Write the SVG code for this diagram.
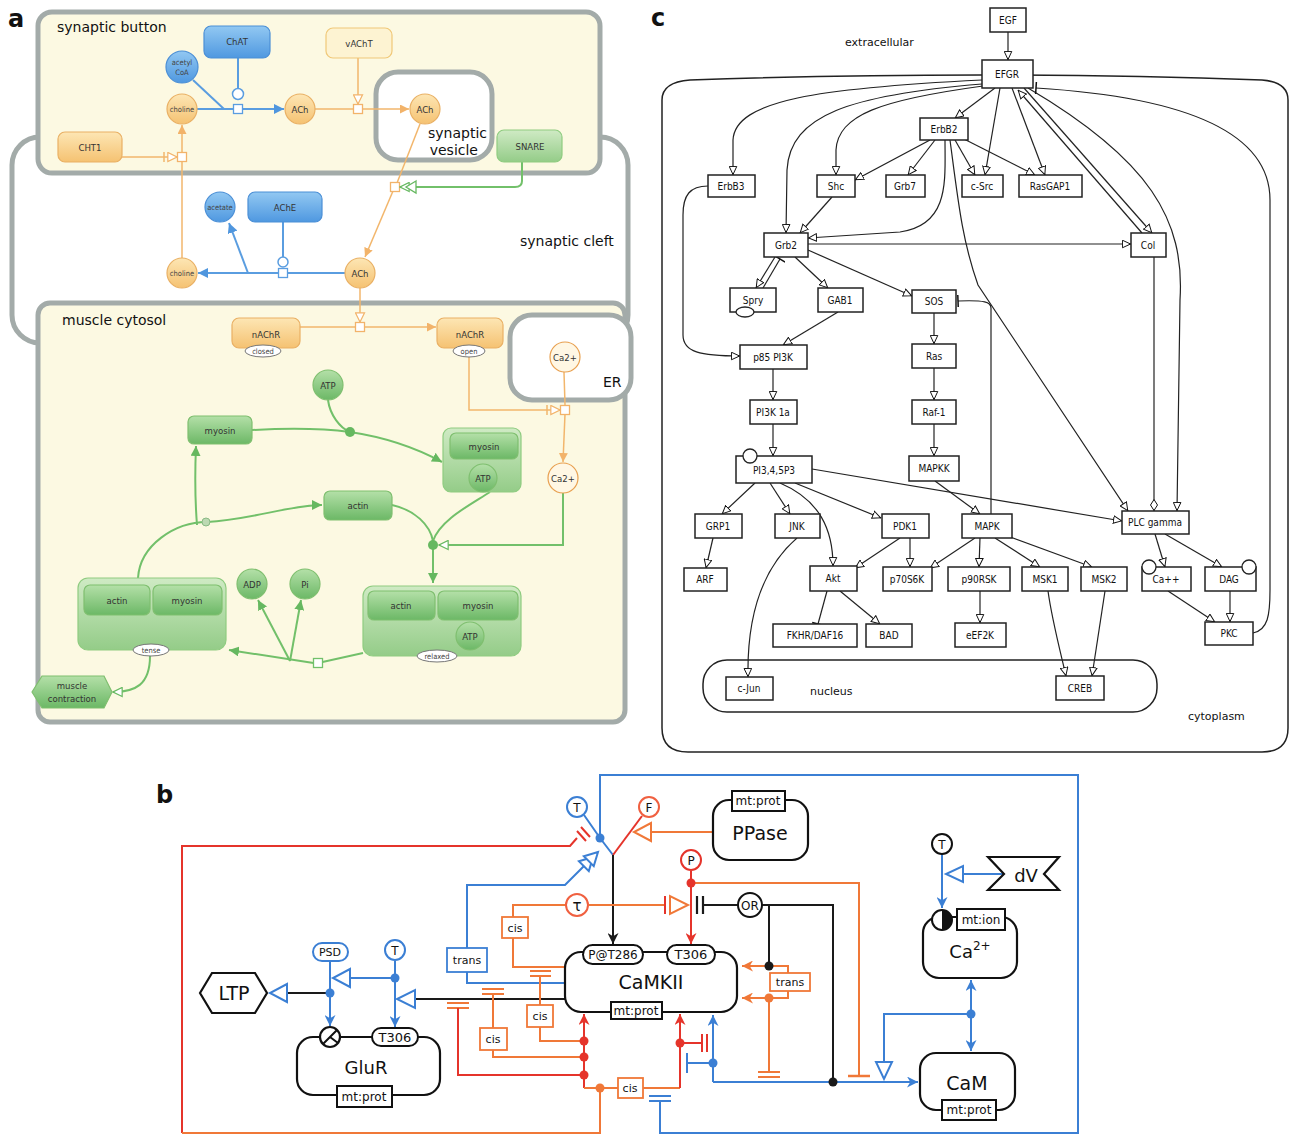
<svg xmlns="http://www.w3.org/2000/svg" width="1295" height="1135" viewBox="0 0 1295 1135">
<style>
.lbl{font-family:"DejaVu Sans","Liberation Sans",sans-serif;fill:#111}
.ta{font-family:"DejaVu Sans Condensed","DejaVu Sans",sans-serif;font-size:9.5px;fill:#333;text-anchor:middle}
.tas{font-family:"DejaVu Sans Condensed","DejaVu Sans",sans-serif;font-size:7.5px;fill:#444;text-anchor:middle}
.comp{stroke:#a3aba9;stroke-width:5}
.ora{fill:url(#gO);stroke:#e9b064;stroke-width:1.2}
.blu{fill:url(#gB);stroke:#4b8fd6;stroke-width:1.2}
.grn{fill:url(#gG);stroke:#7fbf6f;stroke-width:1.2}
.sq{fill:#fff;stroke-width:1.3}
.eo{stroke:#f2b66c;stroke-width:1.5;fill:none}
.eb{stroke:#5a9de0;stroke-width:2;fill:none}
.eg{stroke:#72c06a;stroke-width:2;fill:none}
.nc{fill:#fff;stroke:#222;stroke-width:1.5}
.tc{font-family:"DejaVu Sans Condensed","DejaVu Sans",sans-serif;font-size:10px;fill:#111;text-anchor:middle}
.ec{stroke:#222;stroke-width:1.2;fill:none}
.nb{fill:#fff;stroke:#111;stroke-width:2.2}
.tb{font-family:"DejaVu Sans","Liberation Sans",sans-serif;fill:#111;text-anchor:middle}
.bl{stroke:#3b7fd4;stroke-width:2;fill:none}
.rd{stroke:#e5342b;stroke-width:2;fill:none}
.or{stroke:#f07838;stroke-width:2;fill:none}
.bk{stroke:#1a1a1a;stroke-width:2;fill:none}
</style>
<defs>
<linearGradient id="gO" x1="0" y1="0" x2="0" y2="1"><stop offset="0" stop-color="#fde6b4"/><stop offset="1" stop-color="#f5c272"/></linearGradient>
<linearGradient id="gB" x1="0" y1="0" x2="0" y2="1"><stop offset="0" stop-color="#92c8f2"/><stop offset="1" stop-color="#4f98e0"/></linearGradient>
<linearGradient id="gG" x1="0" y1="0" x2="0" y2="1"><stop offset="0" stop-color="#b4e0a8"/><stop offset="1" stop-color="#6cb866"/></linearGradient>
<linearGradient id="gGl" x1="0" y1="0" x2="0" y2="1"><stop offset="0" stop-color="#cfeac4"/><stop offset="1" stop-color="#94cc88"/></linearGradient>
<marker id="aoA" viewBox="0 0 10 10" refX="10" refY="5" markerWidth="9" markerHeight="9" markerUnits="userSpaceOnUse" orient="auto"><path d="M0,0 L10,5 L0,10 Z" fill="#f2b36a"/></marker>
<marker id="abA" viewBox="0 0 10 10" refX="10" refY="5" markerWidth="10" markerHeight="10" markerUnits="userSpaceOnUse" orient="auto"><path d="M0,0 L10,5 L0,10 Z" fill="#4f96de"/></marker>
<marker id="agA" viewBox="0 0 10 10" refX="10" refY="5" markerWidth="10" markerHeight="10" markerUnits="userSpaceOnUse" orient="auto"><path d="M0,0 L10,5 L0,10 Z" fill="#66b860"/></marker>
<marker id="hoA" viewBox="0 0 12 12" refX="11" refY="6" markerWidth="11" markerHeight="11" markerUnits="userSpaceOnUse" orient="auto"><path d="M1,1 L11,6 L1,11 Z" fill="#fff" stroke="#f2b36a" stroke-width="1.3"/></marker>
<marker id="hgA" viewBox="0 0 12 12" refX="11" refY="6" markerWidth="11" markerHeight="11" markerUnits="userSpaceOnUse" orient="auto"><path d="M1,1 L11,6 L1,11 Z" fill="#fff" stroke="#66b860" stroke-width="1.3"/></marker>
<marker id="ot" viewBox="0 0 10 10" refX="10" refY="5" markerWidth="9" markerHeight="9" markerUnits="userSpaceOnUse" orient="auto"><path d="M0.5,0.8 L9.5,5 L0.5,9.2 Z" fill="#fff" stroke="#111" stroke-width="1.1"/></marker>
<marker id="tbar" viewBox="0 0 4 12" refX="2" refY="6" markerWidth="4" markerHeight="12" markerUnits="userSpaceOnUse" orient="auto"><path d="M2,0 V12" stroke="#111" stroke-width="1.5"/></marker>
<marker id="dia" viewBox="0 0 12 8" refX="12" refY="4" markerWidth="12" markerHeight="8" markerUnits="userSpaceOnUse" orient="auto"><path d="M0.5,4 L6,0.5 L11.5,4 L6,7.5 Z" fill="#fff" stroke="#111"/></marker>
<marker id="fb" viewBox="0 0 10 10" refX="10" refY="5" markerWidth="11" markerHeight="11" markerUnits="userSpaceOnUse" orient="auto"><path d="M0,0 L10,5 L0,10 L3,5 Z" fill="#3b7fd4"/></marker>
<marker id="fr" viewBox="0 0 10 10" refX="10" refY="5" markerWidth="11" markerHeight="11" markerUnits="userSpaceOnUse" orient="auto"><path d="M0,0 L10,5 L0,10 L3,5 Z" fill="#e5342b"/></marker>
<marker id="fk" viewBox="0 0 10 10" refX="10" refY="5" markerWidth="11" markerHeight="11" markerUnits="userSpaceOnUse" orient="auto"><path d="M0,0 L10,5 L0,10 L3,5 Z" fill="#1a1a1a"/></marker>
<marker id="fo" viewBox="0 0 10 10" refX="10" refY="5" markerWidth="11" markerHeight="11" markerUnits="userSpaceOnUse" orient="auto"><path d="M0,0 L10,5 L0,10 L3,5 Z" fill="#f07838"/></marker>
</defs>
<rect width="1295" height="1135" fill="#fff"/>

<!-- ================= PANEL A ================= -->
<g id="panel-a">
<text class="lbl" x="8" y="27" font-size="24" font-weight="bold">a</text>
<rect id="synaptic-cleft" class="comp" x="12" y="137" width="616" height="206" rx="28" fill="#fff"/>
<rect id="synaptic-button" class="comp" x="38" y="12" width="562" height="161" rx="14" fill="#fcf9e2"/>
<rect id="muscle-cytosol" class="comp" x="38" y="303" width="587" height="419" rx="12" fill="#fcf9e2"/>
<rect id="ER" class="comp" x="510" y="315" width="121" height="85" rx="22" fill="#fff"/>
<rect id="synaptic-vesicle" class="comp" x="376" y="72" width="116" height="88" rx="22" fill="#fff"/>
<text class="lbl" x="57" y="32" font-size="14">synaptic button</text>
<text class="lbl" x="520" y="246" font-size="14">synaptic cleft</text>
<text class="lbl" x="62" y="325" font-size="14">muscle cytosol</text>
<text class="lbl" x="603" y="387" font-size="14">ER</text>
<text class="lbl" x="487" y="138" font-size="14" text-anchor="end">synaptic</text>
<text class="lbl" x="478" y="155" font-size="14" text-anchor="end">vesicle</text>
</g>

<g id="connectors-a">
<path class="eb" d="M197,109 L234,109"/>
<path class="eb" d="M243,109 L284,109" marker-end="url(#abA)"/>
<path class="eb" d="M193,80 L224,109"/>
<path class="eb" d="M238,58 L238,88"/>
<circle cx="238" cy="94" r="5.5" fill="#fff" stroke="#5a9de0" stroke-width="1.5"/>
<rect class="sq" x="233.5" y="104.5" width="9" height="9" stroke="#5a9de0"/>
<path class="eo" d="M315,109 L353.5,109"/>
<path class="eo" d="M362.5,109 L409,109" marker-end="url(#aoA)"/>
<path class="eo" d="M358,58 L358,104" marker-end="url(#hoA)"/>
<rect class="sq" x="353.5" y="104.5" width="9" height="9" stroke="#f2b36a"/>
<path class="eo" d="M122,157 L177,157" marker-end="url(#hoA)"/>
<path class="eo" d="M164,152 L164,162"/>
<path class="eo" d="M182,258 L182,161.5"/>
<path class="eo" d="M182,152.5 L182,125" marker-end="url(#aoA)"/>
<rect class="sq" x="177.5" y="152.5" width="9" height="9" stroke="#f2b36a"/>
<path class="eo" d="M420,124 L397,183"/>
<path class="eo" d="M393,191 L365,257" marker-end="url(#aoA)"/>
<rect class="sq" x="390.5" y="182.5" width="9" height="9" stroke="#f2b36a"/>
<path class="eg" stroke-width="1.5" d="M522,162 L522,181 Q522,187 515,187 L400,187" marker-end="url(#hgA)"/>
<path d="M416,181 L406,187 L416,193 Z" fill="#fff" stroke="#66b860" stroke-width="1.3"/>
<path class="eb" d="M345,273 L287.5,273"/>
<path class="eb" d="M278.5,273 L198,273" marker-end="url(#abA)"/>
<path class="eb" d="M283,222 L283,257"/>
<circle cx="283" cy="262" r="5" fill="#fff" stroke="#5a9de0" stroke-width="1.5"/>
<rect class="sq" x="278.5" y="268.5" width="9" height="9" stroke="#5a9de0"/>
<path class="eb" d="M248,273 L229,223" marker-end="url(#abA)"/>
<path class="eo" d="M360,288 L360,322" marker-end="url(#hoA)"/>
<path class="eo" d="M300,327 L355.5,327"/>
<path class="eo" d="M364.5,327 L436,327" marker-end="url(#aoA)"/>
<rect class="sq" x="355.5" y="322.5" width="9" height="9" stroke="#f2b36a"/>
<path class="eo" d="M469,352 L469,410 L560,410" marker-end="url(#hoA)"/>
<path class="eo" d="M547,405 L547,415"/>
<path class="eo" d="M564,372 L565,405"/>
<path class="eo" d="M565,414 L563,462" marker-end="url(#aoA)"/>
<rect class="sq" x="560.5" y="405.5" width="9" height="9" stroke="#f2b36a"/>
<path class="eg" stroke-width="1.5" d="M563,493 L563,545 L439,545" marker-end="url(#hgA)"/>
<path class="eg" d="M392,505 C415,510 430,525 433,541"/>
<path class="eg" d="M490,492 C470,505 440,520 433,541"/>
<path class="eg" d="M433,549 L433,583" marker-end="url(#agA)"/>
<circle cx="433" cy="545" r="5" fill="#66b860"/>
<path class="eg" d="M252,430 C290,428 320,428 350,432 C390,438 420,450 442,462" marker-end="url(#agA)"/>
<path class="eg" d="M328,400 C330,415 340,428 350,432"/>
<circle cx="350" cy="432" r="5" fill="#66b860"/>
<path class="eg" d="M363,653 L322.5,662"/>
<path class="eg" d="M313.5,663 L229,650" marker-end="url(#agA)"/>
<path class="eg" d="M290,661 L258,600" marker-end="url(#agA)"/>
<path class="eg" d="M290,661 L301,600" marker-end="url(#agA)"/>
<rect class="sq" x="313.5" y="658.5" width="9" height="9" stroke="#72c06a"/>
<path class="eg" d="M138,578 C140,545 175,522 207,522 C250,520 290,505 322,505" marker-end="url(#agA)"/>
<path class="eg" d="M197,525 C195,500 195,470 196,446" marker-end="url(#agA)"/>
<circle cx="206" cy="522" r="4" fill="#bcd9b2" stroke="#8aba84"/>
<path class="eg" stroke-width="1.5" d="M150,656 C150,685 135,692 113,692" marker-end="url(#hgA)"/>
</g>

<g id="ChAT"><rect class="blu" x="204" y="26" width="66" height="32" rx="7"/><text class="ta" x="237" y="45" fill="#eef6ff">ChAT</text></g>
<g id="vAChT"><rect x="326" y="28" width="66" height="30" rx="7" fill="#fdf3d2" stroke="#f0c878" stroke-width="1.2"/><text class="ta" x="359" y="47">vAChT</text></g>
<g id="acetylCoA"><circle class="blu" cx="182" cy="67" r="16"/><text class="tas" x="182" y="65" fill="#234">acetyl</text><text class="tas" x="182" y="75" fill="#234">CoA</text></g>
<g id="choline1"><circle class="ora" cx="182" cy="109" r="15"/><text class="tas" x="182" y="112">choline</text></g>
<g id="ACh1"><circle class="ora" cx="300" cy="109" r="15"/><text class="ta" x="300" y="113">ACh</text></g>
<g id="ACh2"><circle class="ora" cx="425" cy="109" r="15"/><text class="ta" x="425" y="113">ACh</text></g>
<g id="CHT1"><rect class="ora" x="58" y="132" width="64" height="30" rx="7"/><text class="ta" x="90" y="151">CHT1</text></g>
<g id="SNARE"><rect x="497" y="130" width="65" height="32" rx="7" fill="url(#gGl)" stroke="#8fcc80" stroke-width="1.2"/><text class="ta" x="530" y="150">SNARE</text></g>
<g id="acetate"><circle class="blu" cx="220" cy="207" r="15"/><text class="tas" x="220" y="210" fill="#234">acetate</text></g>
<g id="AChE"><rect class="blu" x="248" y="192" width="74" height="30" rx="7"/><text class="ta" x="285" y="211" fill="#eef6ff">AChE</text></g>
<g id="choline2"><circle class="ora" cx="182" cy="273" r="15"/><text class="tas" x="182" y="276">choline</text></g>
<g id="ACh3"><circle class="ora" cx="360" cy="273" r="15"/><text class="ta" x="360" y="277">ACh</text></g>
<g id="nAChR-closed"><rect class="ora" x="232" y="318" width="68" height="30" rx="7"/><text class="ta" x="266" y="338">nAChR</text><ellipse cx="263" cy="351" rx="18" ry="6" fill="#fff" stroke="#777"/><text class="tas" x="263" y="354">closed</text></g>
<g id="nAChR-open"><rect class="ora" x="437" y="318" width="66" height="30" rx="7"/><text class="ta" x="470" y="338">nAChR</text><ellipse cx="469" cy="351" rx="16" ry="6" fill="#fff" stroke="#777"/><text class="tas" x="469" y="354">open</text></g>
<g id="Ca-ER"><circle cx="565" cy="357" r="15" fill="#fff7e4" stroke="#e8a050" stroke-width="1.2"/><text class="ta" x="565" y="361">Ca2+</text></g>
<g id="Ca-cyt"><circle cx="563" cy="478" r="15" fill="#fff7e4" stroke="#e8a050" stroke-width="1.2"/><text class="ta" x="563" y="482">Ca2+</text></g>
<g id="ATP1"><circle class="grn" cx="328" cy="385" r="15"/><text class="ta" x="328" y="389">ATP</text></g>
<g id="myosin1"><rect class="grn" x="188" y="416" width="64" height="28" rx="6"/><text class="ta" x="220" y="434">myosin</text></g>
<g id="myosin-ATP"><rect x="443" y="428" width="78" height="64" rx="8" fill="url(#gGl)" stroke="#8fcc80" stroke-width="1.2"/><rect class="grn" x="450" y="433" width="68" height="26" rx="6"/><text class="ta" x="484" y="450">myosin</text><circle class="grn" cx="483" cy="478" r="14"/><text class="ta" x="483" y="482">ATP</text></g>
<g id="actin1"><rect class="grn" x="324" y="491" width="68" height="29" rx="6"/><text class="ta" x="358" y="509">actin</text></g>
<g id="tense"><rect x="78" y="578" width="148" height="72" rx="10" fill="url(#gGl)" stroke="#8fcc80" stroke-width="1.2"/><rect class="grn" x="84" y="585" width="66" height="30" rx="6"/><text class="ta" x="117" y="604">actin</text><rect class="grn" x="153" y="585" width="69" height="30" rx="6"/><text class="ta" x="187" y="604">myosin</text><ellipse cx="151" cy="650" rx="18" ry="6" fill="#fff" stroke="#777"/><text class="tas" x="151" y="653">tense</text></g>
<g id="ADP"><circle class="grn" cx="252" cy="584" r="15"/><text class="ta" x="252" y="588">ADP</text></g>
<g id="Pi"><circle class="grn" cx="305" cy="584" r="15"/><text class="ta" x="305" y="588">Pi</text></g>
<g id="relaxed"><rect x="363" y="586" width="158" height="70" rx="10" fill="url(#gGl)" stroke="#8fcc80" stroke-width="1.2"/><rect class="grn" x="368" y="591" width="67" height="29" rx="6"/><text class="ta" x="401" y="609">actin</text><rect class="grn" x="438" y="591" width="80" height="29" rx="6"/><text class="ta" x="478" y="609">myosin</text><circle class="grn" cx="470" cy="636" r="14"/><text class="ta" x="470" y="640">ATP</text><ellipse cx="437" cy="656" rx="20" ry="6" fill="#fff" stroke="#777"/><text class="tas" x="437" y="659">relaxed</text></g>
<g id="muscle-contraction"><polygon class="grn" points="32,692 42,676 104,676 112,692 104,708 42,708"/><text class="ta" x="72" y="689">muscle</text><text class="ta" x="72" y="702">contraction</text></g>

<!-- ================= PANEL C ================= -->
<g id="panel-c">
<text class="lbl" x="651" y="26" font-size="24" font-weight="bold">c</text>
<path id="cytoplasm" d="M662,100 Q662,82 690,80 Q985,70 1262,80 Q1288,82 1288,100 L1288,728 Q1288,752 1262,752 L688,752 Q662,752 662,728 Z" fill="none" stroke="#222" stroke-width="1.5"/>
<rect id="nucleus" x="703" y="660" width="454" height="52" rx="24" fill="none" stroke="#222" stroke-width="1.5"/>
<text class="lbl" x="845" y="46" font-size="11">extracellular</text>
<text class="lbl" x="1188" y="720" font-size="11">cytoplasm</text>
<text class="lbl" x="810" y="695" font-size="11">nucleus</text>
</g>
<g id="connectors-c">
<path class="ec" d="M1008,32 L1008,60" marker-end="url(#ot)"/>
<path class="ec" d="M995,88 L955,118" marker-end="url(#ot)"/>
<path class="ec" d="M982,80 C820,88 735,100 733,140 L733,175" marker-end="url(#ot)"/>
<path class="ec" d="M982,84 C850,95 790,115 787,170 L786,233" marker-end="url(#ot)"/>
<path class="ec" d="M983,86 C880,100 838,115 836,150 L836,175" marker-end="url(#ot)"/>
<path class="ec" d="M1000,88 L985,175" marker-end="url(#ot)"/>
<path class="ec" d="M1012,88 L1045,175" marker-end="url(#ot)"/>
<path class="ec" d="M1024,88 L1152,233" marker-end="url(#ot)"/>
<path class="ec" d="M1142,233 L1018,90" marker-end="url(#ot)"/>
<path class="ec" d="M1028,88 C1150,160 1185,220 1180,300 L1177,511" marker-end="url(#ot)"/>
<path class="ec" d="M1253,633 C1268,630 1270,615 1270,590 L1270,200 C1270,120 1150,95 1036,88" marker-end="url(#tbar)"/>
<path class="ec" d="M1154,257 L1154,511" marker-end="url(#dia)"/>
<path class="ec" d="M930,140 L855,180" marker-end="url(#ot)"/>
<path class="ec" d="M935,140 L908,175" marker-end="url(#ot)"/>
<path class="ec" d="M955,140 L975,175" marker-end="url(#ot)"/>
<path class="ec" d="M962,138 L1035,175" marker-end="url(#ot)"/>
<path class="ec" d="M945,140 C945,180 950,225 900,232 L808,238" marker-end="url(#ot)"/>
<path class="ec" d="M950,140 C958,200 962,240 978,285 L1128,511" marker-end="url(#ot)"/>
<path class="ec" d="M832,197 L800,233" marker-end="url(#ot)"/>
<path class="ec" d="M708,186 C690,186 683,195 683,215 L683,335 C683,352 700,356 740,356" marker-end="url(#ot)"/>
<path class="ec" d="M808,244 L1131,244" marker-end="url(#ot)"/>
<path class="ec" d="M775,257 L756,288" marker-end="url(#ot)"/>
<path class="ec" d="M763,288 L780,259" marker-end="url(#tbar)"/>
<path class="ec" d="M795,257 L828,288" marker-end="url(#ot)"/>
<path class="ec" d="M808,250 L912,296" marker-end="url(#ot)"/>
<path class="ec" d="M838,312 L783,345" marker-end="url(#ot)"/>
<path class="ec" d="M773,369 L773,400" marker-end="url(#ot)"/>
<path class="ec" d="M773,424 L773,456" marker-end="url(#ot)"/>
<path class="ec" d="M934,313 L934,344" marker-end="url(#ot)"/>
<path class="ec" d="M934,368 L934,400" marker-end="url(#ot)"/>
<path class="ec" d="M934,424 L934,456" marker-end="url(#ot)"/>
<path class="ec" d="M935,481 L980,514" marker-end="url(#ot)"/>
<path class="ec" d="M991,514 L991,308 C991,302 985,300 958,301" marker-end="url(#tbar)"/>
<path class="ec" d="M755,483 L722,514" marker-end="url(#ot)"/>
<path class="ec" d="M770,483 L790,514" marker-end="url(#ot)"/>
<path class="ec" d="M780,483 C820,500 833,530 833,566" marker-end="url(#ot)"/>
<path class="ec" d="M795,483 L881,518" marker-end="url(#ot)"/>
<path class="ec" d="M812,469 L1122,521" marker-end="url(#ot)"/>
<path class="ec" d="M713,538 L706,568" marker-end="url(#ot)"/>
<path class="ec" d="M797,538 C760,570 747,620 748,677" marker-end="url(#ot)"/>
<path class="ec" d="M900,538 L855,568" marker-end="url(#ot)"/>
<path class="ec" d="M910,538 L910,567" marker-end="url(#ot)"/>
<path class="ec" d="M975,538 L930,568" marker-end="url(#ot)"/>
<path class="ec" d="M980,538 L979,567" marker-end="url(#ot)"/>
<path class="ec" d="M995,538 L1040,567" marker-end="url(#ot)"/>
<path class="ec" d="M1005,535 L1092,567" marker-end="url(#ot)"/>
<path class="ec" d="M1155,534 L1165,567" marker-end="url(#ot)"/>
<path class="ec" d="M1165,534 L1222,567" marker-end="url(#ot)"/>
<path class="ec" d="M827,591 L818,624" marker-end="url(#tbar)"/>
<path class="ec" d="M840,591 L880,624" marker-end="url(#ot)"/>
<path class="ec" d="M980,591 L980,623" marker-end="url(#ot)"/>
<path class="ec" d="M1048,591 C1052,620 1060,650 1066,676" marker-end="url(#ot)"/>
<path class="ec" d="M1105,591 L1092,676" marker-end="url(#ot)"/>
<path class="ec" d="M1168,591 L1215,622" marker-end="url(#ot)"/>
<path class="ec" d="M1230,591 L1230,622" marker-end="url(#ot)"/>
</g>
<g id="EGF"><rect class="nc" x="990" y="8" width="36" height="24"/><text class="tc" x="1008" y="24">EGF</text></g>
<g id="EFGR"><rect class="nc" x="982" y="60" width="51" height="28"/><text class="tc" x="1007" y="78">EFGR</text></g>
<g id="ErbB2"><rect class="nc" x="920" y="118" width="48" height="22"/><text class="tc" x="944" y="133">ErbB2</text></g>
<g id="ErbB3"><rect class="nc" x="708" y="175" width="47" height="22"/><text class="tc" x="731" y="190">ErbB3</text></g>
<g id="Shc"><rect class="nc" x="817" y="175" width="38" height="22"/><text class="tc" x="836" y="190">Shc</text></g>
<g id="Grb7"><rect class="nc" x="886" y="175" width="39" height="22"/><text class="tc" x="905" y="190">Grb7</text></g>
<g id="c-Src"><rect class="nc" x="962" y="175" width="41" height="22"/><text class="tc" x="982" y="190">c-Src</text></g>
<g id="RasGAP1"><rect class="nc" x="1019" y="175" width="63" height="22"/><text class="tc" x="1050" y="190">RasGAP1</text></g>
<g id="Grb2"><rect class="nc" x="764" y="233" width="44" height="24"/><text class="tc" x="786" y="249">Grb2</text></g>
<g id="Col"><rect class="nc" x="1131" y="233" width="35" height="24"/><text class="tc" x="1148" y="249">Col</text></g>
<g id="Spry"><rect class="nc" x="730" y="288" width="46" height="24"/><text class="tc" x="753" y="304">Spry</text><ellipse cx="745" cy="312" rx="9" ry="5" fill="#fff" stroke="#222" stroke-width="1.3"/></g>
<g id="GAB1"><rect class="nc" x="818" y="288" width="45" height="24"/><text class="tc" x="840" y="304">GAB1</text></g>
<g id="SOS"><rect class="nc" x="912" y="290" width="44" height="23"/><text class="tc" x="934" y="305">SOS</text></g>
<g id="p85PI3K"><rect class="nc" x="740" y="345" width="67" height="24"/><text class="tc" x="773" y="361">p85 PI3K</text></g>
<g id="Ras"><rect class="nc" x="912" y="344" width="44" height="24"/><text class="tc" x="934" y="360">Ras</text></g>
<g id="PI3K1a"><rect class="nc" x="750" y="400" width="47" height="24"/><text class="tc" x="773" y="416">PI3K 1a</text></g>
<g id="Raf-1"><rect class="nc" x="912" y="400" width="44" height="24"/><text class="tc" x="934" y="416">Raf-1</text></g>
<g id="PIP3"><rect class="nc" x="736" y="456" width="76" height="27"/><text class="tc" x="774" y="474">PI3,4,5P3</text><circle cx="750" cy="456" r="7" fill="#fff" stroke="#222" stroke-width="1.3"/></g>
<g id="MAPKK"><rect class="nc" x="909" y="456" width="50" height="25"/><text class="tc" x="934" y="472">MAPKK</text></g>
<g id="GRP1"><rect class="nc" x="695" y="514" width="47" height="24"/><text class="tc" x="718" y="530">GRP1</text></g>
<g id="JNK"><rect class="nc" x="775" y="514" width="45" height="24"/><text class="tc" x="797" y="530">JNK</text></g>
<g id="PDK1"><rect class="nc" x="882" y="514" width="47" height="24"/><text class="tc" x="905" y="530">PDK1</text></g>
<g id="MAPK"><rect class="nc" x="962" y="514" width="50" height="24"/><text class="tc" x="987" y="530">MAPK</text></g>
<g id="PLCgamma"><rect class="nc" x="1122" y="511" width="67" height="23"/><text class="tc" x="1155" y="526">PLC gamma</text></g>
<g id="ARF"><rect class="nc" x="684" y="568" width="43" height="23"/><text class="tc" x="705" y="583">ARF</text></g>
<g id="Akt"><rect class="nc" x="810" y="566" width="47" height="25"/><text class="tc" x="833" y="582">Akt</text></g>
<g id="p70S6K"><rect class="nc" x="883" y="567" width="49" height="24"/><text class="tc" x="907" y="583">p70S6K</text></g>
<g id="p90RSK"><rect class="nc" x="948" y="567" width="62" height="24"/><text class="tc" x="979" y="583">p90RSK</text></g>
<g id="MSK1"><rect class="nc" x="1022" y="567" width="46" height="24"/><text class="tc" x="1045" y="583">MSK1</text></g>
<g id="MSK2"><rect class="nc" x="1081" y="567" width="46" height="24"/><text class="tc" x="1104" y="583">MSK2</text></g>
<g id="Capp"><rect class="nc" x="1142" y="567" width="49" height="24"/><text class="tc" x="1166" y="583">Ca++</text><circle cx="1149" cy="567" r="7" fill="#fff" stroke="#222" stroke-width="1.3"/></g>
<g id="DAG"><rect class="nc" x="1205" y="567" width="51" height="24"/><text class="tc" x="1229" y="583">DAG</text><circle cx="1249" cy="567" r="7" fill="#fff" stroke="#222" stroke-width="1.3"/></g>
<g id="FKHR"><rect class="nc" x="773" y="624" width="84" height="23"/><text class="tc" x="815" y="639">FKHR/DAF16</text></g>
<g id="BAD"><rect class="nc" x="866" y="624" width="46" height="23"/><text class="tc" x="889" y="639">BAD</text></g>
<g id="eEF2K"><rect class="nc" x="955" y="623" width="51" height="24"/><text class="tc" x="980" y="639">eEF2K</text></g>
<g id="PKC"><rect class="nc" x="1205" y="622" width="48" height="23"/><text class="tc" x="1229" y="637">PKC</text></g>
<g id="c-Jun"><rect class="nc" x="726" y="677" width="47" height="23"/><text class="tc" x="749" y="692">c-Jun</text></g>
<g id="CREB"><rect class="nc" x="1056" y="676" width="48" height="24"/><text class="tc" x="1080" y="692">CREB</text></g>

<!-- ================= PANEL B ================= -->
<text class="lbl" x="156" y="803" font-size="24" font-weight="bold">b</text>
<g id="connectors-b">
<path class="rd" d="M577,838 L570,846 L182,846 L182,1133"/>
<path stroke="#e5342b" stroke-width="2" d="M577,831 L586,841 M581,827 L590,837"/>
<path class="or" d="M600,1088 L600,1133 L182,1133"/>
<path class="bl" d="M600,838 L600,775 L1078,775 L1078,1133 L660,1133 L660,1101"/>
<path stroke="#3b7fd4" stroke-width="2" d="M649,1096 H671 M649,1101 H671"/>
<path class="bl" d="M584,815 L600,838 L613,855"/>
<circle cx="600" cy="838" r="4.5" fill="#3b7fd4"/>
<path class="rd" stroke="#f06040" d="M642,816 L613,855"/>
<path class="bk" d="M613,855 L613,944" marker-end="url(#fk)"/>
<path class="or" d="M713,832 L651,832"/>
<polygon points="651,823 651,841 634,832" fill="#fff" stroke="#f07838" stroke-width="2"/>
<path class="bl" d="M467,948 L467,885 L565,885 L586,864"/>
<g transform="translate(598,852) rotate(-45)" fill="#fff" stroke="#3b7fd4" stroke-width="2"><polygon points="-7,0 -20,-7 -20,7"/><polygon points="0,0 -13,-7 -13,7"/></g>
<path class="bl" d="M467,972 L467,983 L565,983"/>
<path class="bk" d="M565,999 L415,999"/>
<polygon points="415,990 415,1008 397,999" fill="#fff" stroke="#3b7fd4" stroke-width="2"/>
<path class="bl" d="M395,961 L395,1027" marker-end="url(#fb)"/>
<path class="bl" d="M395,978 L350,978"/>
<polygon points="350,969 350,987 333,978" fill="#fff" stroke="#3b7fd4" stroke-width="2"/>
<circle cx="395" cy="978" r="4.5" fill="#3b7fd4"/>
<path class="bl" d="M330,961 L330,1026" marker-end="url(#fb)"/>
<path class="bk" stroke-width="1.5" d="M330,993 L287,993"/>
<polygon points="287,984 287,1002 270,993" fill="#fff" stroke="#3b7fd4" stroke-width="2"/>
<circle cx="330" cy="993" r="4.5" fill="#3b7fd4"/>
<path class="or" d="M589,905 L664,905"/>
<path stroke="#e5342b" stroke-width="2" d="M665,896 V914"/>
<polygon points="670,896 670,914 688,905" fill="#fff" stroke="#f07838" stroke-width="2"/>
<path class="or" d="M566,905 L513,905 L513,917 M513,938 L513,967 L565,967"/>
<path stroke="#f07838" stroke-width="2" d="M530,971 H551 M530,976 H551"/>
<path class="or" d="M540,976 L540,1005 M540,1027 L540,1041 L584,1041"/>
<path stroke="#f07838" stroke-width="2" d="M482,989 H504 M482,994 H504"/>
<path class="or" d="M493,994 L493,1028 M493,1050 L493,1057 L584,1057"/>
<path stroke="#f07838" stroke-width="2" d="M447,1003 H469 M447,1008 H469"/>
<path class="rd" d="M458,1008 L458,1075 L584,1075"/>
<path class="rd" d="M584,1088 L584,1014" marker-end="url(#fr)"/>
<circle cx="584" cy="1041" r="4.5" fill="#e5342b"/>
<circle cx="584" cy="1057" r="4.5" fill="#e5342b"/>
<circle cx="584" cy="1075" r="4.5" fill="#e5342b"/>
<path class="or" d="M584,1088 L618,1088 M643,1088 L680,1088"/>
<circle cx="600" cy="1088" r="4.5" fill="#f07838"/>
<path class="rd" d="M680,1088 L680,1014" marker-end="url(#fr)"/>
<circle cx="680" cy="1043" r="4.5" fill="#e5342b"/>
<path class="rd" d="M680,1043 L702,1043"/>
<path stroke="#e5342b" stroke-width="2" d="M702,1034 V1052 M707,1034 V1052"/>
<path class="bl" d="M713,1082 L713,1015" marker-end="url(#fb)"/>
<path class="bl" d="M713,1063 L687,1063"/>
<path stroke="#3b7fd4" stroke-width="2" d="M687,1053 V1073"/>
<circle cx="713" cy="1063" r="4.5" fill="#3b7fd4"/>
<path class="bl" d="M713,1082 L918,1082" marker-end="url(#fb)"/>
<path class="rd" d="M691,871 L691,944" marker-end="url(#fr)"/>
<path class="or" stroke="#f06040" d="M691,883 L859,883 L859,1076"/>
<path stroke="#f07838" stroke-width="2.5" d="M848,1076 H870"/>
<circle cx="691" cy="883" r="4.5" fill="#e5342b"/>
<path stroke="#1a1a1a" stroke-width="2.2" d="M697,896 V914 M703,896 V914"/>
<path class="bk" d="M703,905 L738,905 M762,905 L833,905 L833,1082"/>
<circle cx="833" cy="1082" r="4.5" fill="#1a1a1a"/>
<path class="bk" d="M769,905 L769,966"/>
<path class="or" d="M769,966 L742,966" marker-end="url(#fo)"/>
<path class="or" d="M769,966 L788,966 L788,973 M788,991 L788,998 L769,998"/>
<path class="or" d="M769,998 L742,998" marker-end="url(#fo)"/>
<path class="or" d="M769,998 L769,1073"/>
<path stroke="#f07838" stroke-width="2" d="M758,1072 H780 M758,1077 H780"/>
<circle cx="769" cy="966" r="4.5" fill="#1a1a1a"/>
<circle cx="769" cy="998" r="4.5" fill="#f07838"/>
<path class="bl" d="M942,854 L942,908" marker-end="url(#fb)"/>
<path class="bl" d="M1005,874 L963,874"/>
<polygon points="963,866 963,882 946,874" fill="#fff" stroke="#3b7fd4" stroke-width="2"/>
<path class="bl" d="M971,1014 L971,980" marker-end="url(#fb)"/>
<path class="bl" d="M971,1014 L971,1051" marker-end="url(#fb)"/>
<circle cx="971" cy="1014" r="4.5" fill="#3b7fd4"/>
<path class="bl" stroke-width="1.5" d="M971,1014 L884,1014 L884,1062"/>
<polygon points="876,1062 892,1062 884,1079" fill="#fff" stroke="#3b7fd4" stroke-width="2"/>
</g>

<g id="cis1"><rect x="502" y="917" width="26" height="21" fill="#fff" stroke="#f07838" stroke-width="1.8"/><text class="tb" x="515" y="932" font-size="11" fill="#f07838">cis</text></g>
<g id="cis2"><rect x="527" y="1005" width="26" height="22" fill="#fff" stroke="#f07838" stroke-width="1.8"/><text class="tb" x="540" y="1020" font-size="11" fill="#f07838">cis</text></g>
<g id="cis3"><rect x="480" y="1028" width="27" height="22" fill="#fff" stroke="#f07838" stroke-width="1.8"/><text class="tb" x="493" y="1043" font-size="11" fill="#f07838">cis</text></g>
<g id="cis4"><rect x="618" y="1078" width="25" height="20" fill="#fff" stroke="#f07838" stroke-width="1.8"/><text class="tb" x="630" y="1092" font-size="11" fill="#f07838">cis</text></g>
<g id="trans1"><rect x="447" y="948" width="40" height="24" fill="#fff" stroke="#3b7fd4" stroke-width="1.8"/><text class="tb" x="467" y="964" font-size="11" fill="#3b7fd4">trans</text></g>
<g id="trans2"><rect x="770" y="973" width="40" height="18" fill="#fff" stroke="#f07838" stroke-width="1.8"/><text class="tb" x="790" y="986" font-size="11" fill="#f07838">trans</text></g>

<g id="LTP"><polygon points="200,993 212,973 255,973 267,993 255,1013 212,1013" class="nb" stroke-width="2.5"/><text class="tb" x="234" y="1000" font-size="19">LTP</text></g>
<g id="PSD"><rect x="313" y="943" width="35" height="18" rx="9" fill="#fff" stroke="#3b7fd4" stroke-width="2"/><text class="tb" x="330" y="956" font-size="11" fill="#3b7fd4">PSD</text></g>
<g id="T-blue1"><circle cx="395" cy="950" r="10" fill="#fff" stroke="#3b7fd4" stroke-width="2"/><text class="tb" x="395" y="955" font-size="12" fill="#3b7fd4">T</text></g>
<g id="GluR"><rect class="nb" x="297" y="1037" width="143" height="58" rx="16"/><text class="tb" x="366" y="1074" font-size="18">GluR</text>
<circle cx="330" cy="1037" r="10" fill="#fff" stroke="#111" stroke-width="2.2"/><path d="M323,1044 L337,1030 M330,1037 L338,1043" stroke="#111" stroke-width="2"/>
<rect x="372" y="1028" width="46" height="18" rx="9" fill="#fff" stroke="#111" stroke-width="2"/><text class="tb" x="395" y="1042" font-size="13">T306</text>
<rect x="337" y="1086" width="55" height="21" fill="#fff" stroke="#111" stroke-width="2"/><text class="tb" x="364" y="1101" font-size="12">mt:prot</text></g>
<g id="CaMKII"><rect class="nb" x="565" y="952" width="172" height="60" rx="16"/><text class="tb" x="651" y="989" font-size="19">CaMKII</text>
<rect x="583" y="945" width="60" height="19" rx="9.5" fill="#fff" stroke="#111" stroke-width="2"/><text class="tb" x="613" y="959" font-size="12">P@T286</text>
<rect x="667" y="945" width="48" height="19" rx="9.5" fill="#fff" stroke="#111" stroke-width="2"/><text class="tb" x="691" y="959" font-size="13">T306</text>
<rect x="611" y="1002" width="51" height="17" fill="#fff" stroke="#111" stroke-width="2"/><text class="tb" x="636" y="1015" font-size="12">mt:prot</text></g>
<g id="PPase"><rect class="nb" x="713" y="800" width="95" height="60" rx="16"/><text class="tb" x="760" y="840" font-size="19">PPase</text>
<rect x="732" y="791" width="53" height="20" fill="#fff" stroke="#111" stroke-width="2"/><text class="tb" x="758" y="805" font-size="12">mt:prot</text></g>
<g id="T-blue2"><circle cx="577" cy="807" r="10" fill="#fff" stroke="#3b7fd4" stroke-width="2"/><text class="tb" x="577" y="812" font-size="12" fill="#3b7fd4">T</text></g>
<g id="F"><circle cx="649" cy="807" r="10" fill="#fff" stroke="#f06040" stroke-width="2"/><text class="tb" x="649" y="812" font-size="12" fill="#f06040">F</text></g>
<g id="P"><circle cx="691" cy="860" r="10" fill="#fff" stroke="#e5342b" stroke-width="2"/><text class="tb" x="691" y="865" font-size="12" fill="#e5342b">P</text></g>
<g id="tau"><circle cx="577" cy="905" r="11" fill="#fff" stroke="#f06040" stroke-width="2"/><text class="tb" x="577" y="911" font-size="15" fill="#e5342b">τ</text></g>
<g id="OR"><circle cx="750" cy="905" r="12" fill="#fff" stroke="#111" stroke-width="2"/><text class="tb" x="750" y="910" font-size="12">OR</text></g>
<g id="T-black"><circle cx="942" cy="844" r="10" fill="#fff" stroke="#111" stroke-width="2"/><text class="tb" x="942" y="849" font-size="12">T</text></g>
<g id="dV"><polygon points="988,857 1059,857 1044,874 1059,890 988,890 1004,874" fill="#fff" stroke="#111" stroke-width="2.2"/><text class="tb" x="1026" y="882" font-size="18">dV</text></g>
<g id="Ca2"><rect class="nb" x="923" y="917" width="94" height="61" rx="16"/><text class="tb" x="970" y="958" font-size="18">Ca<tspan font-size="12" dy="-8">2+</tspan></text>
<circle cx="942" cy="920" r="10" fill="#fff" stroke="#111" stroke-width="2"/><path d="M942,910 A10,10 0 0 1 942,930 Z" fill="#111"/>
<rect x="957" y="909" width="48" height="21" fill="#fff" stroke="#111" stroke-width="2"/><text class="tb" x="981" y="924" font-size="12">mt:ion</text></g>
<g id="CaM"><rect class="nb" x="920" y="1053" width="95" height="57" rx="16"/><text class="tb" x="967" y="1090" font-size="19">CaM</text>
<rect x="942" y="1100" width="54" height="20" fill="#fff" stroke="#111" stroke-width="2"/><text class="tb" x="969" y="1114" font-size="12">mt:prot</text></g>
</svg>
